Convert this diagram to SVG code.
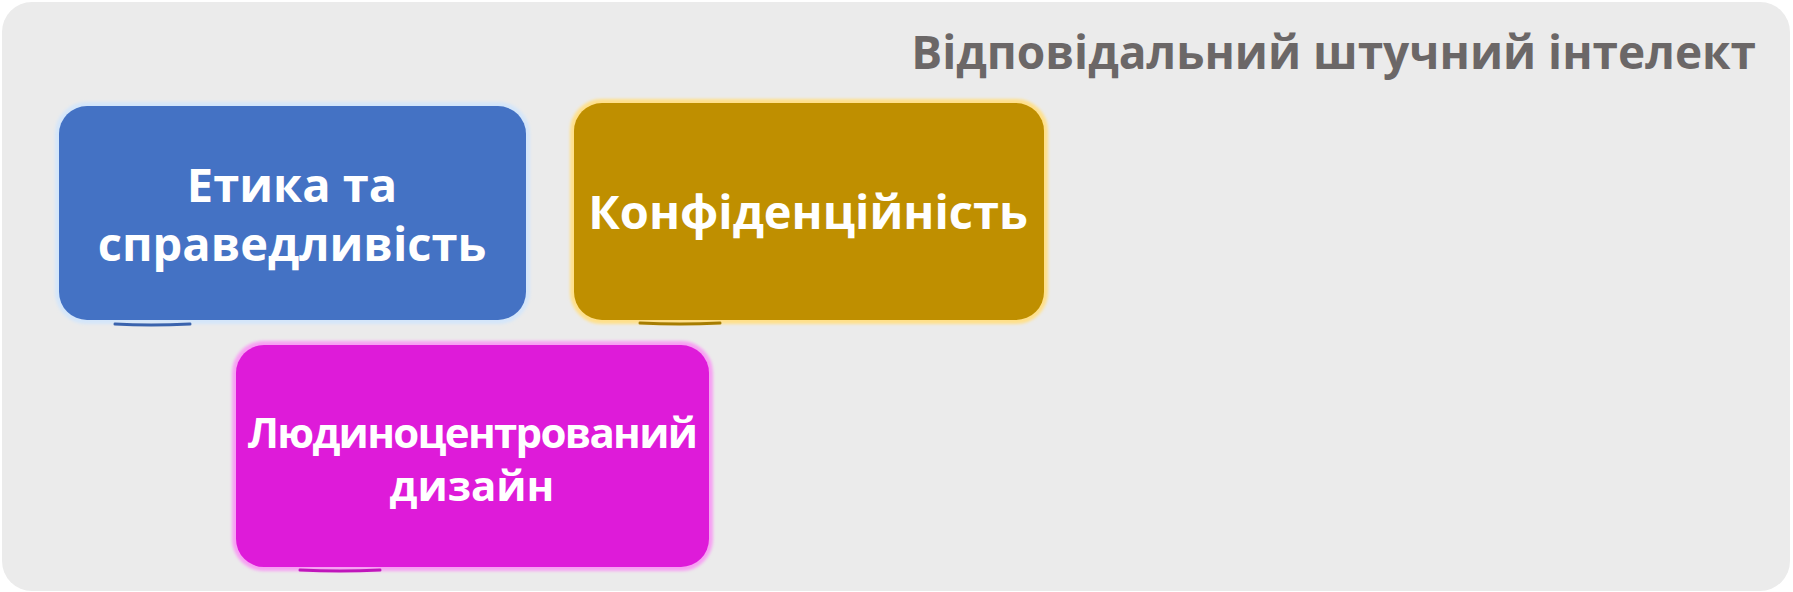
<svg xmlns="http://www.w3.org/2000/svg" width="1793" height="592" viewBox="0 0 1793 592">
<defs>
<style>
.node-text{font-family:"Open Sans","Noto Sans","DejaVu Sans",sans-serif;font-weight:700;fill:#ffffff;text-anchor:middle;font-size:47px;}
.small{font-size:42px;}
.tight{letter-spacing:-1.7px;}
.title{font-family:"Open Sans","Noto Sans","DejaVu Sans",sans-serif;font-weight:700;fill:#6b6767;text-anchor:end;font-size:46px;}
.sketch{fill:none;stroke-linecap:round;stroke-width:3;}
</style>
<filter id="soft" x="-5%" y="-5%" width="110%" height="110%"><feGaussianBlur stdDeviation="1.5"/></filter>
</defs>
<rect id="background" x="2" y="2" width="1788" height="589" rx="30" ry="30" fill="#ebebeb"/>
<text class="title" x="1756" y="69">Відповідальний штучний інтелект</text>
<g id="connectors"></g>
<g id="node-ethics">
<rect x="59" y="106" width="467" height="214" rx="28" ry="28" fill="#cfe3f8" stroke="#d4e6fa" stroke-width="8" filter="url(#soft)"/>
<rect x="59" y="106" width="467" height="214" rx="28" ry="28" fill="#4472c4"/>
<path class="sketch" d="M115 324 Q150 326 190 324" stroke="#3a63ad"/>
<text class="node-text"><tspan x="292" y="202">Етика та</tspan><tspan x="292" y="261">справедливість</tspan></text>
</g>
<g id="node-privacy">
<rect x="574" y="103" width="470" height="217" rx="28" ry="28" fill="#ffe699" stroke="#ffe08a" stroke-width="8" filter="url(#soft)"/>
<rect x="574" y="103" width="470" height="217" rx="28" ry="28" fill="#bf8f00"/>
<path class="sketch" d="M640 323 Q680 325 720 323" stroke="#a77d00"/>
<text class="node-text" x="808" y="229">Конфіденційність</text>
</g>
<g id="node-human">
<rect x="236" y="345" width="473" height="222" rx="28" ry="28" fill="#f9a8f5" stroke="#f7a0f3" stroke-width="8" filter="url(#soft)"/>
<rect x="236" y="345" width="473" height="222" rx="28" ry="28" fill="#de1bd9"/>
<path class="sketch" d="M300 570 Q340 572 380 570" stroke="#c016bb"/>
<text class="node-text small"><tspan class="tight" x="472" y="448">Людиноцентрований</tspan><tspan x="472" y="501">дизайн</tspan></text>
</g>
</svg>
